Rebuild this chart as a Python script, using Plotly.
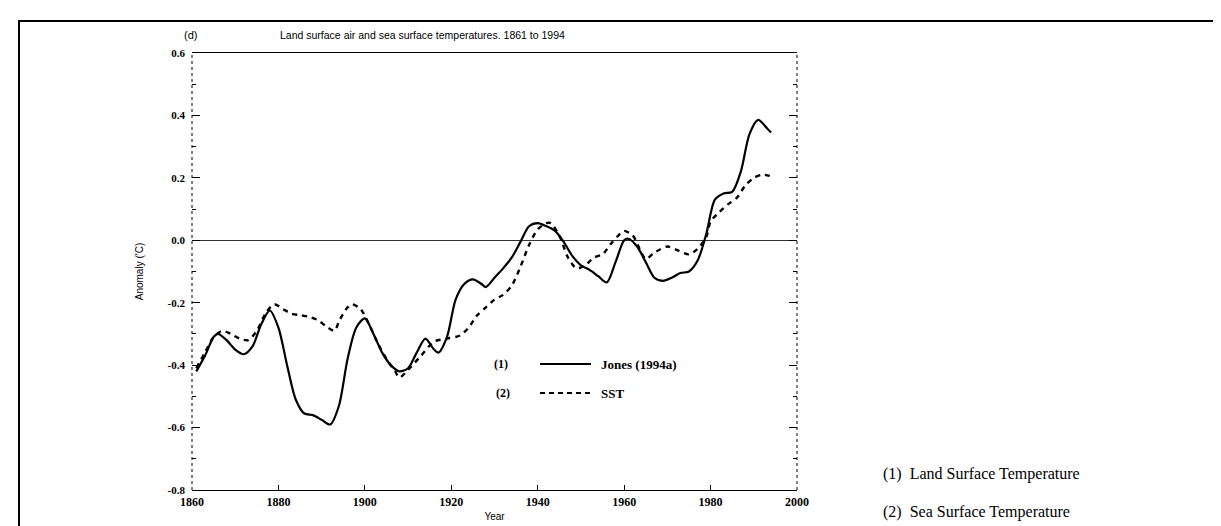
import plotly.graph_objects as go

# ---------------- data ----------------
land_years = [1861, 1863, 1865, 1866, 1868, 1870, 1872, 1874, 1876, 1878, 1880, 1882, 1884,
              1886, 1888, 1890, 1892, 1894, 1896, 1898, 1900, 1902, 1904, 1906, 1908, 1910,
              1912, 1914, 1916, 1917, 1919, 1921, 1923, 1925, 1927, 1928, 1930, 1932, 1934,
              1936, 1938, 1940, 1942, 1944, 1946, 1948, 1950, 1952, 1954, 1956, 1958, 1960,
              1961, 1963, 1965, 1967, 1969, 1971, 1973, 1975, 1977, 1979, 1981, 1983, 1985,
              1987, 1989, 1991, 1993, 1994]
land_anom = [-0.42, -0.37, -0.31, -0.30, -0.32, -0.35, -0.365, -0.34, -0.27, -0.225, -0.28, -0.40, -0.51,
             -0.555, -0.56, -0.575, -0.59, -0.53, -0.38, -0.28, -0.25, -0.30, -0.36, -0.40, -0.42, -0.41,
             -0.36, -0.315, -0.35, -0.36, -0.31, -0.19, -0.14, -0.125, -0.14, -0.15, -0.12, -0.09, -0.055,
             -0.005, 0.045, 0.055, 0.045, 0.03, -0.005, -0.05, -0.08, -0.095, -0.115, -0.135, -0.07, 0.0,
             0.005, -0.02, -0.07, -0.12, -0.13, -0.12, -0.105, -0.10, -0.065, 0.02, 0.13, 0.15, 0.155,
             0.22, 0.34, 0.386, 0.36, 0.345]

sst_years = [1861, 1863, 1865, 1867, 1869, 1871, 1873, 1875, 1877, 1879, 1881, 1883, 1885, 1887,
             1889, 1891, 1893, 1894, 1896, 1897, 1899, 1901, 1903, 1905, 1907, 1908, 1910, 1913,
             1916, 1919, 1922, 1924, 1926, 1928, 1930, 1932, 1934, 1936, 1938, 1940, 1942, 1943,
             1945, 1947, 1949, 1951, 1953, 1955, 1957, 1959, 1960, 1962, 1964, 1965, 1967, 1970,
             1972, 1975, 1977, 1979, 1980, 1982, 1984, 1986, 1988, 1990, 1992, 1994]
sst_anom = [-0.41, -0.36, -0.31, -0.29, -0.30, -0.315, -0.32, -0.29, -0.235, -0.205, -0.22, -0.235, -0.24, -0.245,
            -0.255, -0.275, -0.29, -0.26, -0.215, -0.205, -0.22, -0.27, -0.33, -0.38, -0.42, -0.44, -0.415, -0.37,
            -0.325, -0.315, -0.305, -0.28, -0.24, -0.215, -0.19, -0.175, -0.145, -0.085, -0.015, 0.035, 0.055, 0.055,
            0.015, -0.055, -0.09, -0.08, -0.055, -0.045, -0.01, 0.02, 0.03, 0.015, -0.04, -0.06, -0.04, -0.02,
            -0.03, -0.045, -0.027, 0.01, 0.06, 0.09, 0.115, 0.135, 0.175, 0.2, 0.21, 0.205]

x_ticks = [1860, 1880, 1900, 1920, 1940, 1960, 1980, 2000]
x_ticklabels = ["1860", "1880", "1900", "1920", "1940", "1960", "1980", "2000"]
y_ticks = [-0.8, -0.6, -0.4, -0.2, 0.0, 0.2, 0.4, 0.6]
y_ticklabels = ["-0.8", "-0.6", "-0.4", "-0.2", "0.0", "0.2", "0.4", "0.6"]

title_text = "Land surface air and sea surface temperatures. 1861 to 1994"
panel_label = "(d)"
legend_labels = ["Jones (1994a)", "SST"]
legend_nums = ["(1)", "(2)"]
side_notes = ["(1)  Land Surface Temperature", "(2)  Sea Surface Temperature"]

# ---------------- layout geometry (pixels) ----------------
W, H = 1221, 526
L, R, T, B = 184, 789, 45, 482


def px(x):
    return (x - L) / (R - L)


def py(y):
    return (B - y) / (B - T)


SERIF = "Liberation Serif"
SANS = "Liberation Sans"

fig = go.Figure()
fig.add_trace(go.Scatter(x=land_years, y=land_anom, mode="lines", name=legend_labels[0],
                         line=dict(color="black", width=2.2, shape="spline", smoothing=0.8)))
fig.add_trace(go.Scatter(x=sst_years, y=sst_anom, mode="lines", name=legend_labels[1],
                         line=dict(color="black", width=2.4, shape="spline", smoothing=0.8,
                                   dash="5px,5px")))

fig.update_layout(
    width=W, height=H,
    margin=dict(l=L, r=W - R, t=T, b=H - B),
    plot_bgcolor="white", paper_bgcolor="white",
    showlegend=False,
    font=dict(family=SERIF, color="black"),
)

fig.update_xaxes(
    range=[1860, 2000], tickvals=x_ticks, ticktext=x_ticklabels,
    tickfont=dict(family=SERIF, size=12, weight="bold"),
    ticks="inside", ticklen=5, tickcolor="black",
    showline=True, linecolor="black", linewidth=1.4, mirror=True,
    showgrid=False, zeroline=False,
    title=dict(text="Year", font=dict(family=SANS, size=10), standoff=5),
)
fig.update_yaxes(
    range=[-0.8, 0.6], tickvals=y_ticks, ticktext=y_ticklabels,
    tickfont=dict(family=SERIF, size=11, weight="bold"),
    ticks="inside", ticklen=8, tickcolor="black", mirror="ticks",
    minor=dict(ticks="inside", ticklen=4, dtick=0.1, tickcolor="black"),
    ticklabelstandoff=6,
    showline=False, showgrid=False,
    zeroline=True, zerolinecolor="#333", zerolinewidth=1,
    title=dict(text="Anomaly ('C)", font=dict(family=SANS, size=10), standoff=22),
)

shapes = []
# dotted left / right frame sides
shapes.append(dict(type="line", xref="paper", yref="paper", x0=0, x1=0, y0=0, y1=1,
                   line=dict(color="black", width=1, dash="dot")))
shapes.append(dict(type="line", xref="paper", yref="paper", x0=1, x1=1, y0=0, y1=1,
                   line=dict(color="black", width=1, dash="dot")))
# outer page border (top and left)
shapes.append(dict(type="line", xref="paper", yref="paper", x0=px(10), x1=px(1221), y0=py(13), y1=py(13),
                   line=dict(color="black", width=2)))
shapes.append(dict(type="line", xref="paper", yref="paper", x0=px(11), x1=px(11), y0=py(13), y1=py(526),
                   line=dict(color="black", width=2)))
# legend samples
shapes.append(dict(type="line", xref="paper", yref="paper", x0=px(532), x1=px(583), y0=py(356), y1=py(356),
                   line=dict(color="black", width=2)))
shapes.append(dict(type="line", xref="paper", yref="paper", x0=px(532), x1=px(583), y0=py(385), y1=py(385),
                   line=dict(color="black", width=2, dash="5px,4px")))
fig.update_layout(shapes=shapes)

ann = []
ann.append(dict(text=panel_label, x=px(174), y=py(27), xref="paper", yref="paper", xanchor="left",
                yanchor="middle", showarrow=False, font=dict(family=SANS, size=11)))
ann.append(dict(text=title_text, x=px(270), y=py(27), xref="paper", yref="paper", xanchor="left",
                yanchor="middle", showarrow=False, font=dict(family=SANS, size=10.5)))
for i, (num, lab) in enumerate(zip(legend_nums, legend_labels)):
    yy = 356 + 29 * i
    ann.append(dict(text="<b>" + num + "</b>", x=px(484 + 2 * i), y=py(yy), xref="paper", yref="paper",
                    xanchor="left", yanchor="middle", showarrow=False, font=dict(family=SERIF, size=12)))
    ann.append(dict(text="<b>" + lab + "</b>", x=px(591), y=py(yy), xref="paper", yref="paper",
                    xanchor="left", yanchor="middle", showarrow=False, font=dict(family=SERIF, size=13)))
for i, note in enumerate(side_notes):
    ann.append(dict(text=note, x=px(873), y=py(466 + 38 * i), xref="paper", yref="paper",
                    xanchor="left", yanchor="middle", showarrow=False, font=dict(family=SERIF, size=16)))
fig.update_layout(annotations=ann)

fig.write_html("out.html")
